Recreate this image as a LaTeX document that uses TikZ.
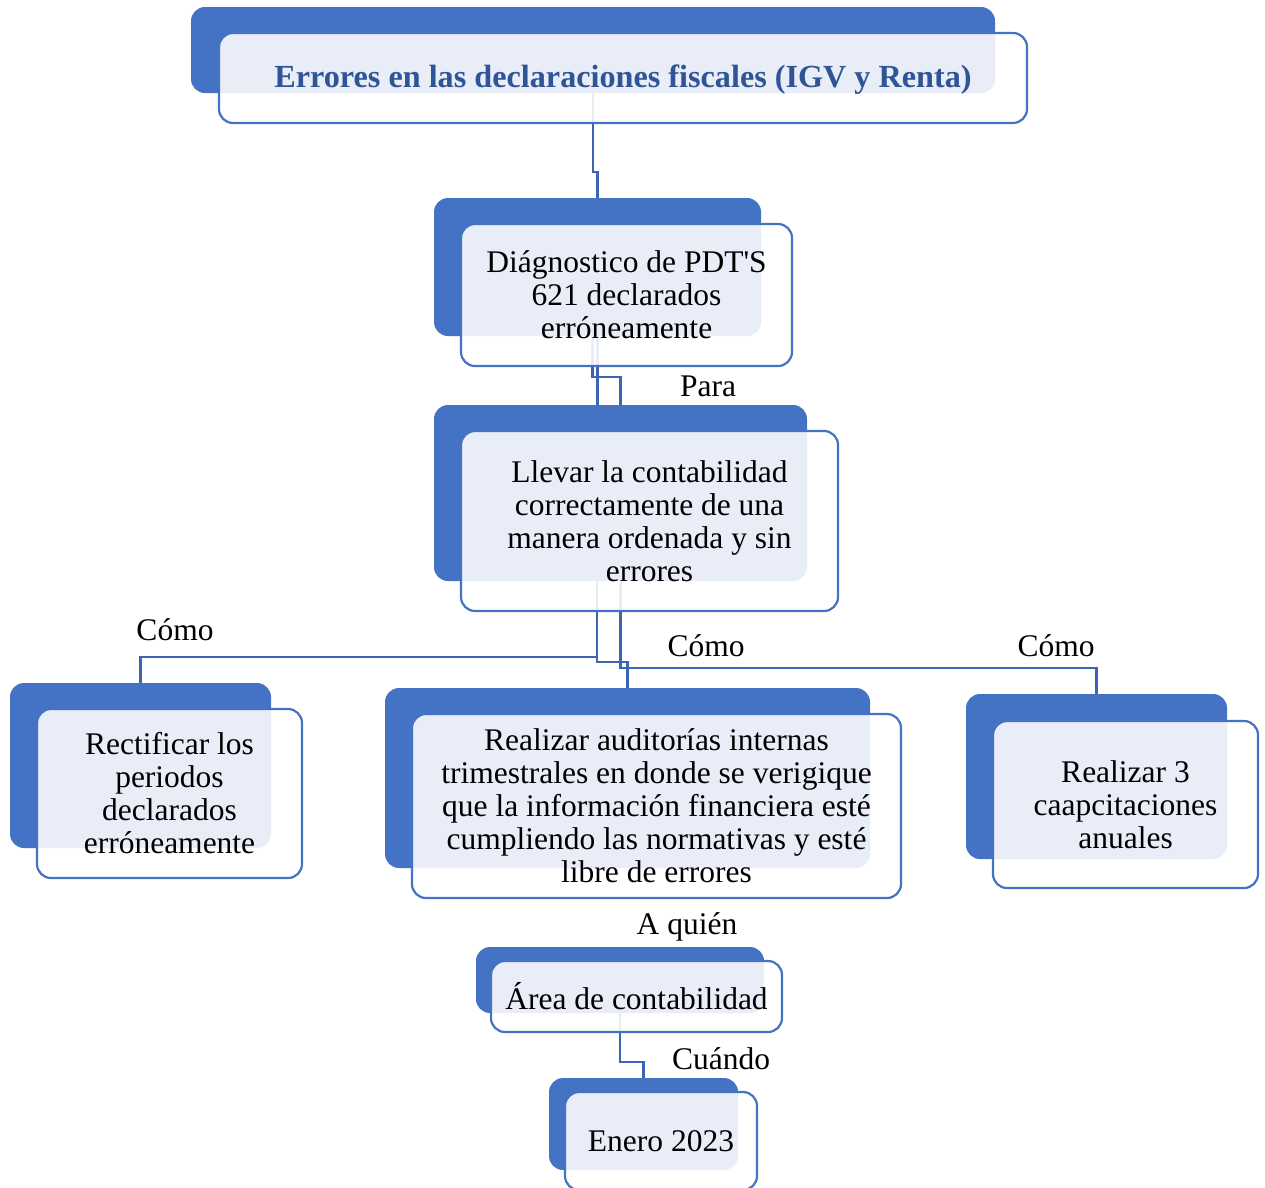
\documentclass[tikz,border=0pt]{standalone}
\usepackage{fontspec}
\setmainfont{Liberation Serif}
\usetikzlibrary{calc}
\definecolor{backblue}{HTML}{4472C4}
\definecolor{linkblue}{HTML}{3C66B4}
\definecolor{titleblue}{HTML}{2F5597}
\tikzset{
  backbox/.style={draw=none, fill=backblue, rounded corners=14pt, inner sep=0pt},
  frontbox/.style={draw=backblue, line width=2.2pt, fill=white, fill opacity=0.88, text opacity=1, rounded corners=14pt, inner sep=0pt, align=center, font=\fontsize{31.5}{33}\selectfont},
  conn/.style={draw=linkblue, line width=2.4pt},
  lbl/.style={inner sep=0pt, font=\fontsize{31.5}{33}\selectfont}
}
\begin{document}
\begin{tikzpicture}[x=1pt,y=-1pt]
\useasboundingbox (0,0) rectangle (1265,1187);
% back boxes
\node[backbox, minimum width=804pt, minimum height=86pt] (b1) at (593,50) {};
\node[backbox, minimum width=327pt, minimum height=138pt] (b2) at (597.5,267) {};
\node[backbox, minimum width=373pt, minimum height=176pt] (b3) at (620.5,493) {};
\node[backbox, minimum width=261pt, minimum height=165pt] (b4) at (140.5,765.5) {};
\node[backbox, minimum width=485pt, minimum height=180pt] (b5) at (627.5,778) {};
\node[backbox, minimum width=261pt, minimum height=165pt] (b6) at (1096.5,776.5) {};
\node[backbox, minimum width=288pt, minimum height=66pt] (b7) at (620,980) {};
\node[backbox, minimum width=189pt, minimum height=92pt] (b8) at (643.5,1124) {};
% connectors
\draw[conn] (b1.south) |- ($(b2.north)+(0,-26)$) -- (b2.north);
\coordinate (j2) at ($(b2.south)+(-5,0)$);
\draw[conn] (j2) |- ($(b3.north)+(0,-28)$) -- (b3.north);
\draw[conn] (b2.south) -- (b2.south |- b3.north);
\coordinate (j3) at ($(b3.south)+(-23.5,0)$);
\draw[conn] (j3) |- ($(b4.north)+(0,-26)$) -- (b4.north);
\draw[conn] (j3) |- ($(b5.north)+(0,-26)$) -- (b5.north);
\draw[conn] (b3.south) |- ($(b6.north)+(0,-26)$) -- (b6.north);
\draw[conn] (b7.south) |- ($(b8.north)+(0,-16)$) -- (b8.north);
% front boxes
\node[frontbox, minimum width=808pt, minimum height=90pt] (f1) at (623,78) {};
\node[inner sep=0pt, text=titleblue, font=\bfseries\fontsize{32.2}{33}\selectfont] (t1) at (623,80) {Errores en las declaraciones fiscales (IGV y Renta)};
\node[frontbox, minimum width=331pt, minimum height=142pt] (f2) at (626.5,295) {Diágnostico de PDT\textquotesingle S\\621 declarados\\erróneamente};
\node[frontbox, minimum width=377pt, minimum height=180pt] (f3) at (649.5,521) {Llevar la contabilidad\\correctamente de una\\manera ordenada y sin\\errores};
\node[frontbox, minimum width=265pt, minimum height=169pt] (f4) at (169.5,793.5) {Rectificar los\\periodos\\declarados\\erróneamente};
\node[frontbox, minimum width=489pt, minimum height=184pt] (f5) at (656.5,806) {Realizar auditorías internas\\trimestrales en donde se verigique\\que la información financiera esté\\cumpliendo las normativas y esté\\libre de errores};
\node[frontbox, minimum width=265pt, minimum height=167pt] (f6) at (1125.5,804.5) {Realizar 3\\caapcitaciones\\anuales};
\node[frontbox, minimum width=291pt, minimum height=71pt] (f7) at (636.5,996.5) {Área de contabilidad};
\node[frontbox, minimum width=192pt, minimum height=98pt] (f8) at (661,1141) {Enero 2023};
% labels
\node[lbl] (l1) at (708,386) {Para};
\node[lbl] (l2) at (175,630) {Cómo};
\node[lbl] (l3) at (706,646) {Cómo};
\node[lbl] (l4) at (1056,646) {Cómo};
\node[lbl] (l5) at (687,927) {A quién};
\node[lbl] (l6) at (721,1059) {Cuándo};
\end{tikzpicture}
\end{document}
